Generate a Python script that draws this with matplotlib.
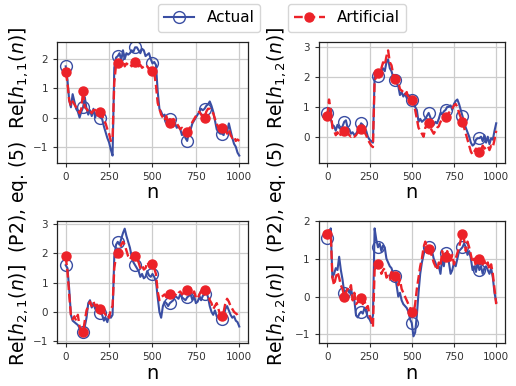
import numpy as np
import matplotlib
matplotlib.use('Agg')
import matplotlib.pyplot as plt
from matplotlib.lines import Line2D

# sample index (every 10th sample)
n = np.arange(0, 1001, 10)

h11_actual = [1.75, 1.3, 0.6, 0.35, 0.8, 0.55, 0.3, 0.2, 0.0, 0.2,
              0.35, 0.7, 0.3, 0.1, 0.25, 0.05, 0.3, 0.0, 0.2, 0.05,
              0.0, -0.05, -0.3, -0.5, -0.7, -0.85, -1.1, -1.3, 1.7, 2.05,
              2.1, 2.2, 1.95, 2.3, 2.0, 2.2, 2.15, 2.2, 2.3, 2.25,
              2.4, 2.4, 2.3, 2.2, 2.35, 2.3, 2.1, 2.15, 2.2, 2.0,
              1.85, 1.9, 1.8, 0.9, 0.3, 0.2, 0.05, 0.1, -0.1, -0.2,
              -0.05, -0.15, -0.3, -0.2, -0.35, -0.3, -0.4, -0.6, -0.5, -0.7,
              -0.8, -0.5, -0.4, -0.2, -0.1, 0.0, 0.1, 0.2, 0.3, 0.25,
              0.3, 0.4, 0.45, 0.55, 0.4, 0.2, -0.1, -0.4, -0.5, -0.55,
              -0.55, -0.6, -0.3, -0.5, -0.2, -0.45, -0.7, -0.9, -1.0, -1.2,
              -1.3]
h11_artificial = [1.55, 1.2, 0.6, 0.4, 0.55, 0.45, 0.35, 0.3, 0.15, 0.3,
                  0.9, 0.35, 0.3, 0.2, 0.25, 0.15, 0.25, 0.25, 0.3, 0.25,
                  0.2, 0.1, -0.1, -0.2, -0.4, -0.55, -0.8, -0.7, 1.2, 1.8,
                  1.85, 1.9, 1.8, 1.95, 1.75, 1.85, 1.8, 1.85, 1.75, 1.85,
                  1.9, 1.8, 1.75, 1.8, 1.7, 1.75, 1.7, 1.75, 1.65, 1.7,
                  1.6, 1.55, 1.1, 0.5, 0.3, 0.1, 0.0, -0.1, 0.05, -0.15,
                  -0.2, -0.1, -0.05, -0.1, -0.2, -0.3, -0.4, -0.35, -0.4, -0.45,
                  -0.5, -0.4, -0.3, -0.15, -0.05, 0.05, 0.15, 0.2, 0.1, 0.05,
                  0.0, 0.2, 0.3, 0.3, 0.2, 0.15, -0.05, -0.2, -0.35, -0.4,
                  -0.35, -0.5, -0.45, -0.55, -0.4, -0.6, -0.7, -0.65, -0.8, -0.75,
                  -0.8]

h12_actual = [0.8, 0.9, 0.6, 0.4, 0.35, 0.2, 0.4, 0.3, 0.25, 0.35,
              0.5, 0.55, 0.3, 0.25, 0.1, 0.15, 0.05, 0.1, 0.2, 0.3,
              0.45, 0.4, 0.3, 0.2, 0.0, -0.1, -0.15, -0.2, 2.0, 2.05,
              2.05, 2.0, 2.2, 2.3, 2.2, 2.5, 2.6, 2.3, 2.2, 2.0,
              1.9, 1.8, 1.7, 1.4, 1.5, 1.35, 1.45, 1.3, 1.4, 1.35,
              1.25, 1.2, 1.0, 0.9, 0.5, 0.6, 0.5, 0.55, 0.6, 0.7,
              0.8, 0.65, 0.5, 0.4, 0.5, 0.45, 0.6, 0.8, 0.75, 0.85,
              0.9, 1.0, 1.0, 1.05, 0.9, 1.1, 1.2, 1.25, 1.1, 0.9,
              0.7, 0.5, 0.3, 0.15, 0.0, -0.2, -0.3, -0.25, -0.1, -0.05,
              -0.05, 0.0, -0.15, 0.05, -0.2, 0.0, -0.25, -0.05, -0.1, 0.2,
              0.45]
h12_artificial = [0.7, 1.25, 0.9, 0.3, 0.2, 0.05, 0.15, 0.0, 0.1, 0.2,
                  0.2, 0.3, 0.15, 0.05, 0.0, 0.05, 0.0, 0.05, 0.15, 0.2,
                  0.25, 0.2, 0.15, 0.05, -0.1, -0.2, -0.3, -0.35, 1.9, 2.0,
                  2.15, 2.2, 2.3, 2.5, 2.4, 2.7, 2.9, 2.5, 2.4, 2.1,
                  1.95, 1.9, 1.85, 1.6, 1.55, 1.5, 1.4, 1.5, 1.3, 1.35,
                  1.25, 1.1, 0.9, 0.6, 0.3, 0.2, 0.1, 0.0, 0.3, 0.4,
                  0.45, 0.3, 0.2, 0.1, 0.2, 0.3, 0.35, 0.5, 0.55, 0.6,
                  0.65, 0.7, 0.8, 0.9, 0.95, 1.05, 1.1, 1.0, 0.8, 0.65,
                  0.5, 0.3, 0.1, -0.1, -0.3, -0.5, -0.6, -0.5, -0.4, -0.5,
                  -0.5, -0.45, -0.3, -0.4, -0.35, -0.3, -0.45, -0.3, -0.35, -0.1,
                  0.2]

h21_actual = [1.6, 1.5, 0.8, -0.1, -0.3, -0.35, -0.4, -0.45, -0.55, -0.7,
              -0.7, -0.5, -0.2, 0.3, 0.4, 0.15, 0.3, 0.1, 0.2, 0.05,
              -0.05, -0.1, -0.3, -0.2, -0.35, -0.1, -0.2, -0.1, 1.9, 2.3,
              2.4, 2.3, 2.5, 2.7, 2.85, 2.6, 2.4, 2.2, 1.9, 1.7,
              1.6, 1.5, 1.4, 1.2, 1.3, 1.15, 1.2, 1.4, 1.25, 1.2,
              1.3, 1.2, 1.05, 0.5, 0.0, -0.2, 0.2, 0.35, 0.3, 0.2,
              0.3, 0.35, 0.4, 0.55, 0.5, 0.45, 0.6, 0.5, 0.45, 0.4,
              0.5, 0.55, 0.6, 0.4, 0.55, 0.3, 0.35, 0.5, 0.4, 0.55,
              0.6, 0.7, 0.5, 0.2, 0.0, -0.1, 0.05, -0.15, -0.2, -0.25,
              -0.25, -0.15, 0.1, 0.2, 0.05, -0.1, -0.2, -0.15, -0.3, -0.35,
              -0.5]
h21_artificial = [1.9, 1.4, 0.6, -0.1, -0.25, -0.15, -0.3, -0.1, -0.5, -0.65,
                  -0.7, -0.3, 0.05, 0.2, 0.35, 0.2, 0.35, 0.2, 0.25, 0.15,
                  0.1, 0.05, 0.0, -0.1, -0.05, -0.2, 0.1, 0.2, 1.5, 1.9,
                  2.0, 2.1, 2.3, 2.4, 2.3, 2.1, 1.9, 1.8, 1.9, 1.85,
                  1.9, 1.8, 1.7, 1.5, 1.6, 1.45, 1.5, 1.7, 1.6, 1.55,
                  1.65, 1.5, 1.3, 0.7, 0.4, 0.5, 0.55, 0.6, 0.5, 0.55,
                  0.6, 0.55, 0.5, 0.6, 0.55, 0.65, 0.7, 0.6, 0.65, 0.7,
                  0.75, 0.7, 0.8, 0.6, 0.7, 0.5, 0.45, 0.6, 0.7, 0.75,
                  0.75, 0.85, 0.7, 0.4, 0.3, 0.1, 0.2, 0.3, 0.1, -0.1,
                  -0.15, 0.0, 0.3, 0.45, 0.35, 0.2, 0.1, 0.0, -0.05, -0.1,
                  -0.2]

h22_actual = [1.55, 1.6, 1.8, 0.5, 0.6, 0.75, 0.7, 1.05, 0.7, 0.45,
              0.1, 0.15, 0.2, 0.1, 0.2, 0.0, -0.1, -0.5, -0.55, -0.45,
              -0.4, -0.45, -0.3, -0.4, -0.55, -0.6, -0.7, -0.5, 1.8, 1.5,
              1.3, 1.4, 1.2, 1.35, 1.3, 1.0, 0.9, 0.8, 0.75, 0.6,
              0.55, 0.3, 0.0, 0.1, -0.1, -0.2, -0.25, -0.3, -0.4, -0.6,
              -0.7, -1.05, -0.95, -0.5, 0.1, 0.6, 0.9, 1.1, 1.3, 1.2,
              1.3, 1.25, 1.2, 1.0, 0.9, 0.75, 0.8, 0.6, 1.0, 0.8,
              1.15, 1.1, 0.9, 0.6, 0.7, 0.9, 0.8, 1.0, 1.2, 1.25,
              1.3, 1.4, 1.3, 1.1, 1.2, 1.0, 0.7, 0.8, 0.65, 0.9,
              0.7, 0.8, 0.6, 0.75, 0.8, 0.7, 0.6, 0.75, 0.5, 0.1,
              -0.15]
h22_artificial = [1.65, 1.75, 1.7, 0.5, 0.3, 0.5, 0.65, 0.5, 0.3, 0.2,
                  0.0, 0.1, 0.2, 0.15, 0.3, -0.1, 0.1, -0.2, -0.15, -0.1,
                  -0.05, -0.2, -0.1, -0.3, -0.25, -0.5, -0.6, -0.8, 0.7, 0.9,
                  0.85, 0.8, 0.6, 0.7, 0.75, 0.5, 0.55, 0.45, 0.65, 0.6,
                  0.55, 0.6, 0.3, 0.45, 0.2, 0.1, 0.0, -0.1, -0.2, -0.3,
                  -0.4, -0.45, -0.2, 0.2, 0.5, 0.8, 1.0, 1.3, 1.45, 1.3,
                  1.25, 1.2, 1.05, 0.9, 0.8, 0.7, 0.9, 0.8, 1.2, 1.0,
                  1.05, 1.2, 1.0, 0.95, 1.1, 0.85, 1.0, 1.15, 1.3, 1.5,
                  1.65, 1.5, 1.2, 1.45, 1.3, 1.1, 0.9, 1.0, 0.8, 1.0,
                  1.0, 0.9, 0.85, 0.95, 0.8, 0.9, 0.7, 0.85, 0.6, 0.2,
                  -0.2]

blue = '#3a4ea3'
red = '#ec2229'

fig = plt.figure(figsize=(5.16, 3.86), dpi=100)

# axes boxes (left, bottom, width, height) and y ranges
boxes = [[0.1105, 0.578, 0.370, 0.313],
         [0.618, 0.578, 0.360, 0.313],
         [0.1105, 0.111, 0.370, 0.317],
         [0.618, 0.111, 0.360, 0.317]]
ylims = [(-1.55, 2.58), (-0.88, 3.18), (-1.07, 3.12), (-1.23, 2.0)]
series = [(h11_actual, h11_artificial),
          (h12_actual, h12_artificial),
          (h21_actual, h21_artificial),
          (h22_actual, h22_artificial)]

marks = list(range(0, 100, 10))

for box, lim, (act, art) in zip(boxes, ylims, series):
    ax = fig.add_axes(box)
    ax.grid(True, color='#cccccc', linewidth=0.9)
    ax.set_axisbelow(True)
    ax.plot(n, act, color=blue, lw=1.5, marker='o', ms=8.5, mfc='none',
            mec=blue, mew=1.0, markevery=marks)
    ax.plot(n, art, color=red, lw=1.7, ls='--', marker='o', ms=6.5,
            mfc=red, mec=red, markevery=marks)
    ax.set_xticks([0, 250, 500, 750, 1000])
    ax.set_xlim(-50, 1050)
    ax.set_ylim(lim)
    ax.tick_params(labelsize=7.5, colors='#333333', length=3, width=0.8)
    for s in ax.spines.values():
        s.set_color('#222222')
        s.set_linewidth(0.9)
    ax.set_xlabel('n', fontsize=14, labelpad=1)

# the long y labels run across both rows
fig.text(0.036, 0.492, r'Re[$h_{2,1}(n)$]  (P2), eq. (5)  Re[$h_{1,1}(n)$]',
         rotation=90, ha='center', va='center', fontsize=13.5)
fig.text(0.535, 0.492, r'Re[$h_{2,2}(n)$]  (P2), eq. (5)  Re[$h_{1,2}(n)$]',
         rotation=90, ha='center', va='center', fontsize=13.5)

h_act = Line2D([], [], color=blue, lw=1.5, marker='o', ms=8.5, mfc='none', mec=blue)
h_art = Line2D([], [], color=red, lw=1.7, ls='--', marker='o', ms=6.5, mfc=red, mec=red)
fig.legend(handles=[h_act], labels=['Actual'], loc='center',
           bbox_to_anchor=(209 / 516, 1 - 18 / 386), fontsize=11)
fig.legend(handles=[h_art], labels=['Artificial'], loc='center',
           bbox_to_anchor=(347 / 516, 1 - 18 / 386), fontsize=11)

fig.savefig('out.png', dpi=100)
